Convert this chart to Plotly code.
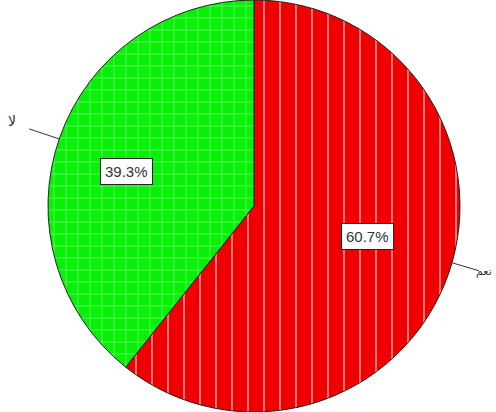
import math
import plotly.graph_objects as go

labels = ["نعم", "لا"]
values = [60.7, 39.3]
colors = ["#f00000", "#08f008"]
shapes = ["|", "+"]

W, H = 496, 412
cx_px, cy_px, R = 254, 206, 206

fig = go.Figure(go.Pie(
    labels=labels, values=values, sort=False, direction="clockwise", rotation=0,
    textinfo="none", hoverinfo="label+percent",
    marker=dict(colors=colors, line=dict(color="#222222", width=1),
                pattern=dict(shape=shapes, fgcolor="white", bgcolor=colors,
                             size=[16, 12], solidity=[0.12, 0.1], fillmode="overlay")),
    domain=dict(x=[(cx_px - R) / W, (cx_px + R) / W], y=[0, 1]),
    showlegend=False,
))

total = sum(values)
start = 0.0
annotations = []
label_r = [0.57, 0.64]
ang_shift = -4.0
for i, (lab, v) in enumerate(zip(labels, values)):
    mid = start + v / total * 360 / 2 + ang_shift
    start += v / total * 360
    a = math.radians(mid)
    px = cx_px + label_r[i] * R * math.sin(a)
    py = cy_px - label_r[i] * R * math.cos(a)
    annotations.append(dict(
        x=px / W, y=1 - py / H, xref="paper", yref="paper",
        xanchor="center", yanchor="middle",
        text=f"{v / total * 100:.1f}%", showarrow=False,
        font=dict(family="Liberation Sans, Arial", size=15, color="#333333"),
        bgcolor="white", bordercolor="#222222", borderwidth=1, borderpad=4,
    ))

# outside labels with leader lines
ang_out = [106.0, 289.0]
line_dx = [27, -30]
line_dy = [8, -10]
for i, lab in enumerate(labels):
    a = math.radians(ang_out[i])
    px = cx_px + R * math.sin(a)
    py = cy_px - R * math.cos(a)
    ex, ey = px + line_dx[i], py + line_dy[i]
    fig.add_shape(type="line", xref="paper", yref="paper",
                  x0=px / W, y0=1 - py / H, x1=ex / W, y1=1 - ey / H,
                  line=dict(color="#333333", width=1))
    if i == 0:
        annotations.append(dict(
            x=494 / W, y=1 - (ey + 1) / H, xref="paper", yref="paper",
            text=lab, showarrow=False,
            font=dict(family="DejaVu Sans", size=11, color="#333333"),
            xanchor="right", yanchor="middle"))
    else:
        annotations.append(dict(
            x=(ex - 17) / W, y=1 - (ey - 8) / H, xref="paper", yref="paper",
            text=lab, showarrow=False,
            font=dict(family="DejaVu Sans", size=14, color="#333333"),
            xanchor="center", yanchor="middle"))

fig.update_layout(
    width=W, height=H, margin=dict(l=0, r=0, t=0, b=0),
    paper_bgcolor="white", plot_bgcolor="white",
    annotations=annotations,
)
fig.write_html("out.html")
